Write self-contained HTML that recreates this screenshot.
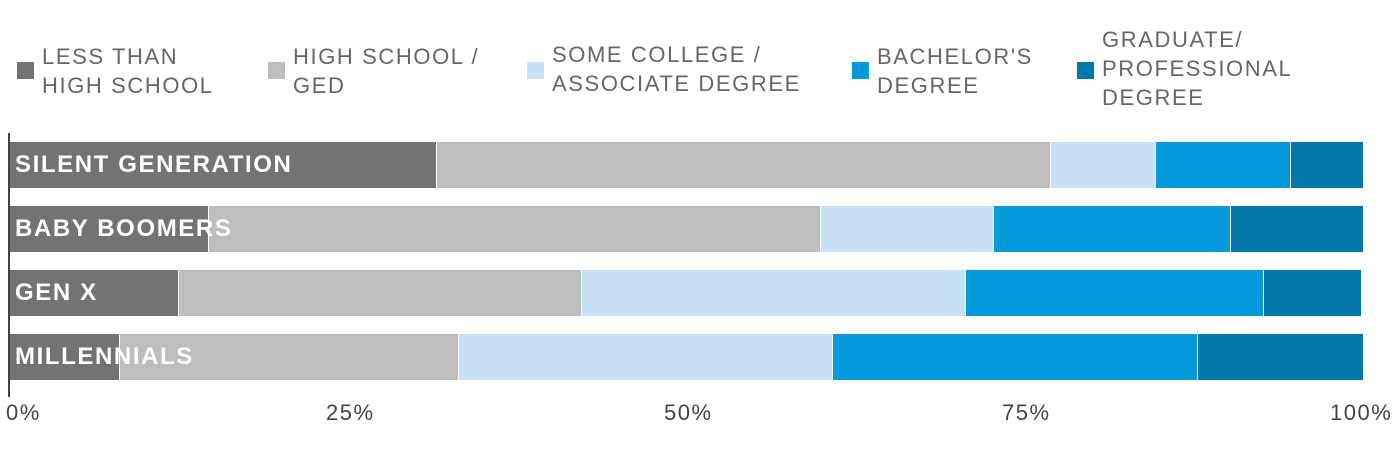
<!DOCTYPE html>
<html><head><style>
body{margin:0;width:1400px;height:474px;background:#fff;font-family:"Liberation Sans",sans-serif;position:relative;overflow:hidden}
.a{position:absolute}
.sq{position:absolute;width:17px;height:17px}
.lt{position:absolute;font-size:22px;line-height:29px;color:#666;letter-spacing:1.6px}
.bar{position:absolute;height:46px}
.bl{position:absolute;left:15px;font-size:24px;font-weight:bold;color:#fff;letter-spacing:1.6px;line-height:46px}
.tk{position:absolute;top:400px;font-size:22px;color:#444;letter-spacing:1.5px}
</style></head><body>
<div class="sq" style="left:17px;top:62px;background:#737373"></div>
<div class="lt" style="left:42px;top:42px">LESS THAN<br>HIGH SCHOOL</div>
<div class="sq" style="left:268px;top:62px;background:#bdbdbd"></div>
<div class="lt" style="left:293px;top:42px">HIGH SCHOOL /<br>GED</div>
<div class="sq" style="left:527px;top:62px;background:#c9e1f4"></div>
<div class="lt" style="left:552px;top:40px">SOME COLLEGE /<br>ASSOCIATE DEGREE</div>
<div class="sq" style="left:852px;top:62px;background:#0399db"></div>
<div class="lt" style="left:877px;top:42px">BACHELOR'S<br>DEGREE</div>
<div class="sq" style="left:1077px;top:62px;background:#0177aa"></div>
<div class="lt" style="left:1102px;top:25px">GRADUATE/<br>PROFESSIONAL<br>DEGREE</div>

<div class="a" style="left:8px;top:133px;width:2px;height:264px;background:#444"></div>

<div class="bar" style="top:142px;left:10px;width:426px;background:#737373"></div>
<div class="bar" style="top:142px;left:437px;width:613px;background:#bdbdbd"></div>
<div class="bar" style="top:142px;left:1051px;width:104px;background:#c9e1f4"></div>
<div class="bar" style="top:142px;left:1156px;width:134px;background:#0399db"></div>
<div class="bar" style="top:142px;left:1291px;width:72px;background:#0177aa"></div>
<div class="bl" style="top:142px">SILENT GENERATION</div>

<div class="bar" style="top:206px;left:10px;width:198px;background:#737373"></div>
<div class="bar" style="top:206px;left:209px;width:611px;background:#bdbdbd"></div>
<div class="bar" style="top:206px;left:821px;width:172px;background:#c9e1f4"></div>
<div class="bar" style="top:206px;left:994px;width:236px;background:#0399db"></div>
<div class="bar" style="top:206px;left:1231px;width:132px;background:#0177aa"></div>
<div class="bl" style="top:206px">BABY BOOMERS</div>

<div class="bar" style="top:270px;left:10px;width:168px;background:#737373"></div>
<div class="bar" style="top:270px;left:179px;width:402px;background:#bdbdbd"></div>
<div class="bar" style="top:270px;left:582px;width:383px;background:#c9e1f4"></div>
<div class="bar" style="top:270px;left:966px;width:297px;background:#0399db"></div>
<div class="bar" style="top:270px;left:1264px;width:97px;background:#0177aa"></div>
<div class="bl" style="top:270px">GEN X</div>

<div class="bar" style="top:334px;left:10px;width:109px;background:#737373"></div>
<div class="bar" style="top:334px;left:120px;width:338px;background:#bdbdbd"></div>
<div class="bar" style="top:334px;left:459px;width:373px;background:#c9e1f4"></div>
<div class="bar" style="top:334px;left:833px;width:364px;background:#0399db"></div>
<div class="bar" style="top:334px;left:1198px;width:165px;background:#0177aa"></div>
<div class="bl" style="top:334px">MILLENNIALS</div>

<div class="tk" style="left:6px">0%</div>
<div class="tk" style="left:326px">25%</div>
<div class="tk" style="left:664px">50%</div>
<div class="tk" style="left:1002px">75%</div>
<div class="tk" style="left:1330px">100%</div>
</body></html>
